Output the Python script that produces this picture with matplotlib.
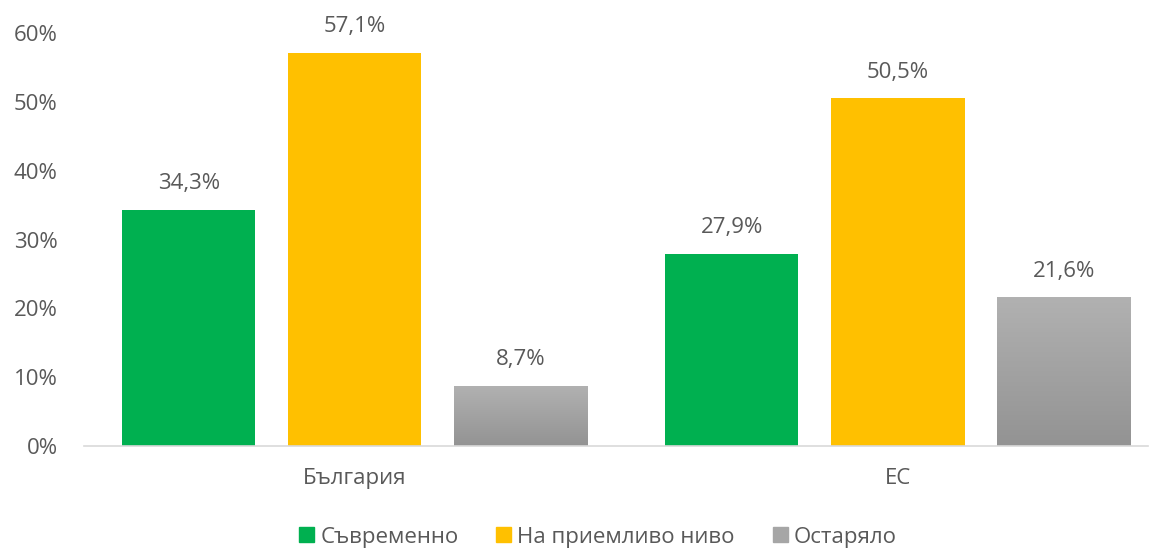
import matplotlib.pyplot as plt
import numpy as np
from matplotlib.patches import Patch

categories = ['България', 'ЕС']
series = ['Съвременно', 'На приемливо ниво', 'Остаряло']
values = [
    [34.3, 27.9],
    [57.1, 50.5],
    [8.7, 21.6],
]
colors = ['#00b050', '#ffc000', '#a6a6a6']
yticks = [0, 10, 20, 30, 40, 50, 60]

plt.rcParams['font.family'] = ['Open Sans', 'DejaVu Sans']
txt = '#595959'
fs = 16

fig = plt.figure(figsize=(11.57, 5.48), dpi=100)
ax = fig.add_axes([84 / 1157, (548 - 446) / 548, (1157 - 84) / 1157, 413 / 548])

x = np.arange(len(categories))
width = 0.245
offsets = [-0.306, 0.0, 0.305]
grad = np.linspace(0, 1, 100).reshape(-1, 1)
gray_cmap = plt.matplotlib.colors.LinearSegmentedColormap.from_list('g', ['#b1b1b1', '#939393'])

for i, (name, vals) in enumerate(zip(series, values)):
    bars = ax.bar(x + offsets[i], vals, width, color=colors[i], zorder=2)
    for b, v in zip(bars, vals):
        if i == 2:
            b.set_facecolor('none')
            im = ax.imshow(grad, cmap=gray_cmap, aspect='auto', zorder=2,
                           extent=[b.get_x(), b.get_x() + b.get_width(), 0, v])
            im.set_clip_path(b)
        ax.text(b.get_x() + b.get_width() / 2, v + 3.8, f'{v:.1f}%'.replace('.', ','),
                ha='center', va='center', fontsize=fs, color=txt, clip_on=False)

ax.set_xlim(-0.499, 1.477)
ax.set_ylim(0, 60)
ax.set_yticks(yticks)
ax.set_yticklabels([f'{t}%' for t in yticks], fontsize=fs, color=txt)
ax.set_xticks(x)
ax.set_xticklabels(categories, fontsize=fs, color=txt)
ax.tick_params(length=0, pad=16)
ax.tick_params(axis='y', pad=19)
for s in ['top', 'right', 'left']:
    ax.spines[s].set_visible(False)
ax.spines['bottom'].set_color('#d9d9d9')
ax.spines['bottom'].set_linewidth(1.2)
ax.spines['bottom'].set_bounds(-0.499, 1.46)

handles = [Patch(color=c) for c in colors]
fig.legend(handles, series, loc='center', bbox_to_anchor=(598 / 1157, 11 / 548),
           ncol=3, frameon=False, fontsize=fs, labelcolor=txt, handlelength=0.68,
           handleheight=0.68, handletextpad=0.27, columnspacing=1.7)

plt.savefig('out.png', dpi=100)
